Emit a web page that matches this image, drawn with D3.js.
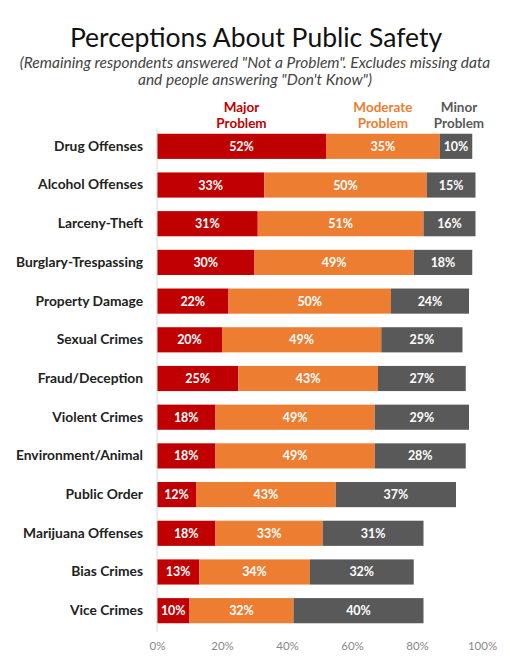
<!DOCTYPE html>
<html><head><meta charset="utf-8">
<script src="https://cdn.jsdelivr.net/npm/d3@7"></script>
<style>body{margin:0;background:#fff}svg{display:block}</style>
</head><body>
<script>
const categories=["Drug Offenses","Alcohol Offenses","Larceny-Theft","Burglary-Trespassing","Property Damage","Sexual Crimes","Fraud/Deception","Violent Crimes","Environment/Animal","Public Order","Marijuana Offenses","Bias Crimes","Vice Crimes"];
const major=[52,33,31,30,22,20,25,18,18,12,18,13,10];
const moderate=[35,50,51,49,50,49,43,49,49,43,33,34,32];
const minor=[10,15,16,18,24,25,27,29,28,37,31,32,40];
const seriesNames=["Major Problem","Moderate Problem","Minor Problem"];
const colors=["#C00000","#ED7D31","#595959"];
const ticks=[0,20,40,60,80,100];

const W=510,H=663;
const svg=d3.select("body").append("svg").attr("width",W).attr("height",H);
const font="Lato, 'Open Sans', sans-serif";
svg.append("text").attr("x",256).attr("y",47).attr("text-anchor","middle")
 .attr("font-family",font).attr("font-size",26.5).attr("fill","#111").text("Perceptions About Public Safety");
svg.append("text").attr("x",255).attr("y",68).attr("text-anchor","middle")
 .attr("font-family",font).attr("font-style","italic").attr("font-size",15.5).attr("fill","#444")
 .text('(Remaining respondents answered "Not a Problem". Excludes missing data');
svg.append("text").attr("x",255).attr("y",85).attr("text-anchor","middle")
 .attr("font-family",font).attr("font-style","italic").attr("font-size",15.5).attr("fill","#444")
 .text('and people answering "Don\'t Know")');

const x=d3.scaleLinear().domain([0,100]).range([157,482]);
const y=d3.scaleBand().domain(categories).range([126,631]).paddingInner(0.35).paddingOuter(0.2);

const data=categories.map((c,i)=>({cat:c,vals:[major[i],moderate[i],minor[i]]}));
const stack=d3.stack().keys([0,1,2]).value((d,k)=>d.vals[k]);
const layers=stack(data);

layers.forEach((layer,k)=>{
  const g=svg.append("g");
  g.selectAll("rect").data(layer).join("rect")
   .attr("x",d=>x(d[0])).attr("y",d=>y(d.data.cat))
   .attr("width",d=>x(d[1])-x(d[0])).attr("height",y.bandwidth())
   .attr("fill",colors[k]);
  g.selectAll("text").data(layer).join("text")
   .attr("x",d=>(x(d[0])+x(d[1]))/2).attr("y",d=>y(d.data.cat)+y.bandwidth()/2+4.5)
   .attr("text-anchor","middle").attr("font-family",font).attr("font-weight","bold")
   .attr("font-size",12.5).attr("fill","#fff").text(d=>d.data.vals[k]+"%");
});

// category axis
const yAxis=svg.append("g").attr("transform","translate(157,0)")
 .call(d3.axisLeft(y).tickSize(0).tickPadding(14));
yAxis.select(".domain").attr("stroke","#d9d9d9").attr("d","M0,128V632");
yAxis.selectAll("text").attr("font-family",font).attr("font-weight","bold").attr("font-size",13.8).attr("fill","#222");

// x axis
const xAxis=svg.append("g").attr("transform","translate(0,634)")
 .call(d3.axisBottom(x).tickValues(ticks).tickSize(0).tickPadding(8).tickFormat(d=>d+"%"));
xAxis.select(".domain").remove();
xAxis.selectAll("text").attr("font-family",font).attr("font-size",11.5).attr("fill","#888");

// legend labels
const first=layers.map(l=>l[0]);
const legendX=first.map(d=>(x(d[0])+x(d[1]))/2);
legendX[2]+=3;
seriesNames.forEach((n,k)=>{
  const parts=n.split(" ");
  const t=svg.append("text").attr("text-anchor","middle").attr("font-family",font).attr("font-weight","bold")
   .attr("font-size",13.5).attr("fill",colors[k]);
  parts.forEach((p,j)=>t.append("tspan").attr("x",legendX[k]).attr("y",112+j*16).text(p));
});
</script>
</body></html>
